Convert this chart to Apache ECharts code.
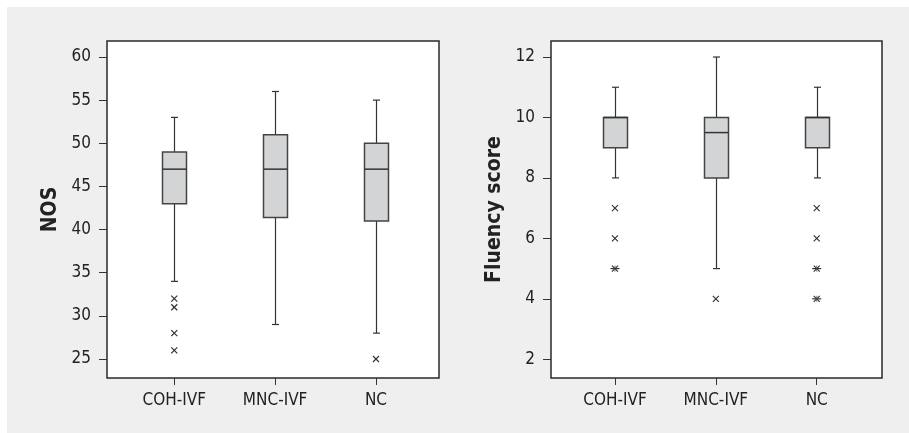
<!DOCTYPE html>
<html><head><meta charset="utf-8">
<script src="https://cdn.jsdelivr.net/npm/echarts@6/dist/echarts.min.js"></script>
<style>html,body{margin:0;padding:0;background:#fff}#c{width:909px;height:433px}</style>
</head><body><div id="c"></div>
<script>
const categories = ['COH-IVF', 'MNC-IVF', 'NC'];
const nosTicks = [25, 30, 35, 40, 45, 50, 55, 60];
const fluencyTicks = [2, 4, 6, 8, 10, 12];
// [low whisker, Q1, median, Q3, high whisker]
const nosBoxes = [[34, 43, 47, 49, 53], [29, 41.4, 47, 51, 56], [28, 41, 47, 50, 55]];
const nosOutliers = [[0, 32, 'x'], [0, 31, 'x'], [0, 28, 'x'], [0, 26, 'x'], [2, 25, 'x']];
const fluencyBoxes = [[8, 9, 10, 10, 11], [5, 8, 9.5, 10, 12], [8, 9, 10, 10, 11]];
const fluencyOutliers = [[0, 7, 'x'], [0, 6, 'x'], [0, 5, '*'], [1, 4, 'x'], [2, 7, 'x'], [2, 6, 'x'], [2, 5, '*'], [2, 4, '*']];

const FONT = "'DejaVu Sans Condensed', 'Liberation Sans', Arial, sans-serif";
const TXT = '#222';

function renderBox(params, api) {
  const x = api.value(0);
  const lo = api.coord([x, api.value(1)]);
  const q1 = api.coord([x, api.value(2)]);
  const med = api.coord([x, api.value(3)]);
  const q3 = api.coord([x, api.value(4)]);
  const hi = api.coord([x, api.value(5)]);
  const cx = Math.round(lo[0]) + 0.5, hw = 12, cw = 3.5;
  const ws = { stroke: '#333', lineWidth: 1.2 };
  return { type: 'group', children: [
    { type: 'line', shape: { x1: cx, y1: hi[1], x2: cx, y2: q3[1] }, style: ws },
    { type: 'line', shape: { x1: cx, y1: q1[1], x2: cx, y2: lo[1] }, style: ws },
    { type: 'line', shape: { x1: cx - cw, y1: hi[1], x2: cx + cw, y2: hi[1] }, style: ws },
    { type: 'line', shape: { x1: cx - cw, y1: lo[1], x2: cx + cw, y2: lo[1] }, style: ws },
    { type: 'rect', shape: { x: cx - hw, y: q3[1], width: 2 * hw, height: q1[1] - q3[1] },
      style: { fill: '#d3d4d5', stroke: '#444', lineWidth: 1.5 } },
    { type: 'line', shape: { x1: cx - hw, y1: med[1], x2: cx + hw, y2: med[1] }, style: { stroke: '#333', lineWidth: 1.5 } }
  ]};
}

function renderOutlier(params, api) {
  const p = api.coord([api.value(0), api.value(1)]);
  const kind = api.value(2);
  const r = 3;
  const st = { stroke: '#333', lineWidth: 1.2 };
  const ch = [
    { type: 'line', shape: { x1: p[0] - r, y1: p[1] - r, x2: p[0] + r, y2: p[1] + r }, style: st },
    { type: 'line', shape: { x1: p[0] - r, y1: p[1] + r, x2: p[0] + r, y2: p[1] - r }, style: st }
  ];
  if (kind === '*') {
    ch.push({ type: 'line', shape: { x1: p[0] - 4.5, y1: p[1], x2: p[0] + 4.5, y2: p[1] }, style: st });
    ch.push({ type: 'line', shape: { x1: p[0], y1: p[1] - 3, x2: p[0], y2: p[1] + 3 }, style: { stroke: '#555', lineWidth: 0.8 } });
  }
  return { type: 'group', children: ch };
}

function xAxis(gi, min, max) {
  return {
    type: 'value', gridIndex: gi, min: min, max: max,
    axisLine: { show: false }, splitLine: { show: false },
    axisTick: { show: true, customValues: [1, 2, 3], length: 7, lineStyle: { color: '#333', width: 1 } },
    axisLabel: { customValues: [1, 2, 3], formatter: v => categories[Math.round(v) - 1],
      margin: 14, fontFamily: FONT, fontSize: 17, color: TXT }
  };
}
function yAxis(gi, min, max, ticks, name) {
  return {
    type: 'value', gridIndex: gi, min: min, max: max, name: name,
    nameLocation: 'middle', nameGap: 46,
    nameTextStyle: { fontFamily: FONT, fontWeight: 'bold', fontSize: 21, color: TXT },
    axisLine: { show: false }, splitLine: { show: false },
    axisTick: { show: true, customValues: ticks, length: 8, lineStyle: { color: '#333', width: 1 } },
    axisLabel: { customValues: ticks, margin: 16, fontFamily: FONT, fontSize: 17, color: TXT }
  };
}

const chart = echarts.init(document.getElementById('c'), null, { renderer: 'canvas' });
chart.setOption({
  animation: false,
  backgroundColor: '#fff',
  graphic: { elements: [{ type: 'rect', silent: true, z: -100,
    shape: { x: 7, y: 7, width: 902, height: 426 }, style: { fill: '#efefef' } }] },
  grid: [
    { left: 107, top: 41, width: 332, height: 337, show: true, backgroundColor: '#fff', borderColor: '#2a2a2a', borderWidth: 1.5 },
    { left: 551, top: 41, width: 331, height: 337, show: true, backgroundColor: '#fff', borderColor: '#2a2a2a', borderWidth: 1.5 }
  ],
  xAxis: [xAxis(0, 0.333, 3.625), xAxis(1, 0.366, 3.647)],
  yAxis: [yAxis(0, 22.8, 61.85, nosTicks, 'NOS'), yAxis(1, 1.38, 12.53, fluencyTicks, 'Fluency score')],
  series: [
    { type: 'custom', xAxisIndex: 0, yAxisIndex: 0, renderItem: renderBox, encode: { x: 0, y: [1, 2, 3, 4, 5] },
      data: nosBoxes.map((b, i) => [i + 1].concat(b)) },
    { type: 'custom', xAxisIndex: 0, yAxisIndex: 0, renderItem: renderOutlier, encode: { x: 0, y: 1 },
      dimensions: ['x', 'y', { name: 'k', type: 'ordinal' }],
      data: nosOutliers.map(o => [o[0] + 1, o[1], o[2]]) },
    { type: 'custom', xAxisIndex: 1, yAxisIndex: 1, renderItem: renderBox, encode: { x: 0, y: [1, 2, 3, 4, 5] },
      data: fluencyBoxes.map((b, i) => [i + 1].concat(b)) },
    { type: 'custom', xAxisIndex: 1, yAxisIndex: 1, renderItem: renderOutlier, encode: { x: 0, y: 1 },
      dimensions: ['x', 'y', { name: 'k', type: 'ordinal' }],
      data: fluencyOutliers.map(o => [o[0] + 1, o[1], o[2]]) }
  ]
});
</script></body></html>
